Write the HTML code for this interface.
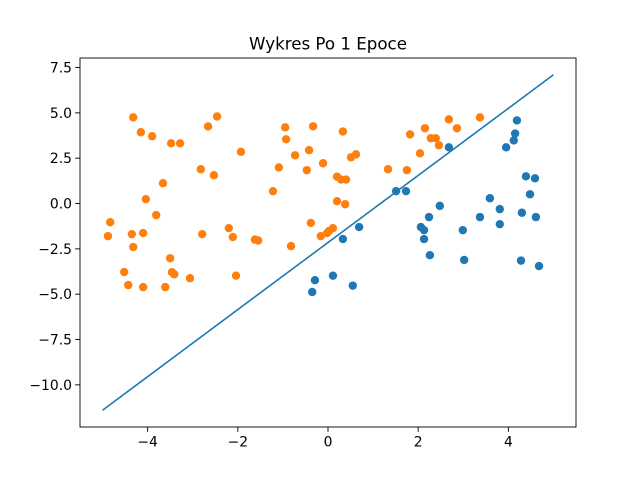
<!DOCTYPE html>
<html><head><meta charset="utf-8"><style>
html,body{margin:0;padding:0;background:#fff;}
svg{display:block;font-family:"DejaVu Sans","Liberation Sans",sans-serif;}
</style></head><body>
<svg id="chart" width="640" height="480" viewBox="0 0 640 480">
<rect x="0" y="0" width="640" height="480" fill="#fff"/>
<text x="328" y="49.5" text-anchor="middle" font-size="16.67" fill="#000">Wykres Po 1 Epoce</text>
<g id="plot"></g>
<rect x="80" y="58" width="496" height="369" fill="none" stroke="#000" stroke-width="0.9"/>
</svg>
<script>
const xTicks = [-4, -2, 0, 2, 4];
const yTicks = [-10, -7.5, -5, -2.5, 0, 2.5, 5, 7.5];
const yTickLabels = ["\u221210.0", "\u22127.5", "\u22125.0", "\u22122.5", "0.0", "2.5", "5.0", "7.5"];
const xTickLabels = ["\u22124", "\u22122", "0", "2", "4"];
const lineX = [-5, 5];
const lineY = [-11.4, 7.1];
const blueX = [-0.35,-0.29,0.11,0.55,0.33,0.69,1.51,1.73,2.06,2.13,2.13,2.24,2.26,2.48,2.68,2.99,3.02,3.37,3.59,3.81,3.81,3.95,4.12,4.15,4.19,4.30,4.28,4.39,4.48,4.59,4.61,4.68];
const blueY = [-4.88,-4.23,-3.98,-4.53,-1.96,-1.30,0.68,0.68,-1.30,-1.47,-1.96,-0.75,-2.85,-0.13,3.1,-1.47,-3.11,-0.75,0.29,-0.31,-1.14,3.1,3.48,3.86,4.58,-0.51,-3.15,1.50,0.51,1.39,-0.75,-3.45];
const orangeX = [-4.32,-4.15,-3.90,-3.48,-3.28,-2.46,-2.66,-2.82,-2.53,-3.66,-4.04,-3.81,-4.88,-4.83,-4.35,-4.10,-4.32,-4.52,-4.43,-4.10,-3.61,-3.50,-3.46,-3.41,-3.06,-2.79,-2.20,-2.11,-2.04,-1.93,-1.62,-1.55,-1.22,-1.09,-0.93,-0.95,-0.73,-0.82,-0.47,-0.42,-0.33,-0.38,-0.11,-0.16,0.02,0.11,-0.02,0.20,0.29,0.40,0.33,0.38,0.51,0.62,0.2,1.33,1.75,1.82,2.04,2.15,2.28,2.39,2.46,2.68,2.86,3.37];
const orangeY = [4.75,3.93,3.71,3.32,3.32,4.8,4.25,1.89,1.56,1.12,0.24,-0.64,-1.80,-1.03,-1.69,-1.63,-2.40,-3.78,-4.50,-4.61,-4.61,-3.02,-3.79,-3.90,-4.12,-1.69,-1.36,-1.85,-3.98,2.85,-1.99,-2.04,0.68,1.99,3.54,4.2,2.66,-2.35,1.84,2.94,4.26,-1.07,2.22,-1.80,-1.52,-1.36,-1.63,1.48,1.32,1.32,3.97,-0.04,2.55,2.71,0.13,1.89,1.84,3.81,2.77,4.15,3.6,3.6,3.21,4.64,4.15,4.75];

const X0=80, X1=576, Y0=58, Y1=427;
const xMin=-5.5, xMax=5.5, yMin=-12.325, yMax=8.025;
function sx(v){return X0+(v-xMin)/(xMax-xMin)*(X1-X0);}
function sy(v){return Y1-(v-yMin)/(yMax-yMin)*(Y1-Y0);}
const NS="http://www.w3.org/2000/svg";
const svg=document.getElementById('chart');
const plot=document.getElementById('plot');
function mk(tag,attrs,parent){const e=document.createElementNS(NS,tag);for(const k in attrs)e.setAttribute(k,attrs[k]);(parent||svg).appendChild(e);return e;}

xTicks.forEach((t,i)=>{
  const x=sx(t);
  const l=mk('line',{x1:x,x2:x,y1:Y1,y2:Y1+4.9,stroke:'#000','stroke-width':0.9});
  
  
  const tx=mk('text',{x:x,y:Y1+19.5,'text-anchor':'middle','font-size':'13.9'});
  tx.textContent=xTickLabels[i];
  
  
});
yTicks.forEach((t,i)=>{
  const y=sy(t);
  const l=mk('line',{x1:X0-4.9,x2:X0,y1:y,y2:y,stroke:'#000','stroke-width':0.9});
  
  
  const tx=mk('text',{x:X0-8,y:y+5,'text-anchor':'end','font-size':'13.9'});
  tx.textContent=yTickLabels[i];
  
  
});

blueX.forEach((v,i)=>{
  const c=mk('circle',{cx:sx(v),cy:sy(blueY[i]),r:4.2,fill:'#1f77b4'},plot);
  
  
});
orangeX.forEach((v,i)=>{
  const c=mk('circle',{cx:sx(v),cy:sy(orangeY[i]),r:4.2,fill:'#ff7f0e'},plot);
  
  
});
const ln=mk('line',{x1:sx(lineX[0]),y1:sy(lineY[0]),x2:sx(lineX[1]),y2:sy(lineY[1]),stroke:'#1f77b4','stroke-width':1.6},plot);


</script>
</body></html>
